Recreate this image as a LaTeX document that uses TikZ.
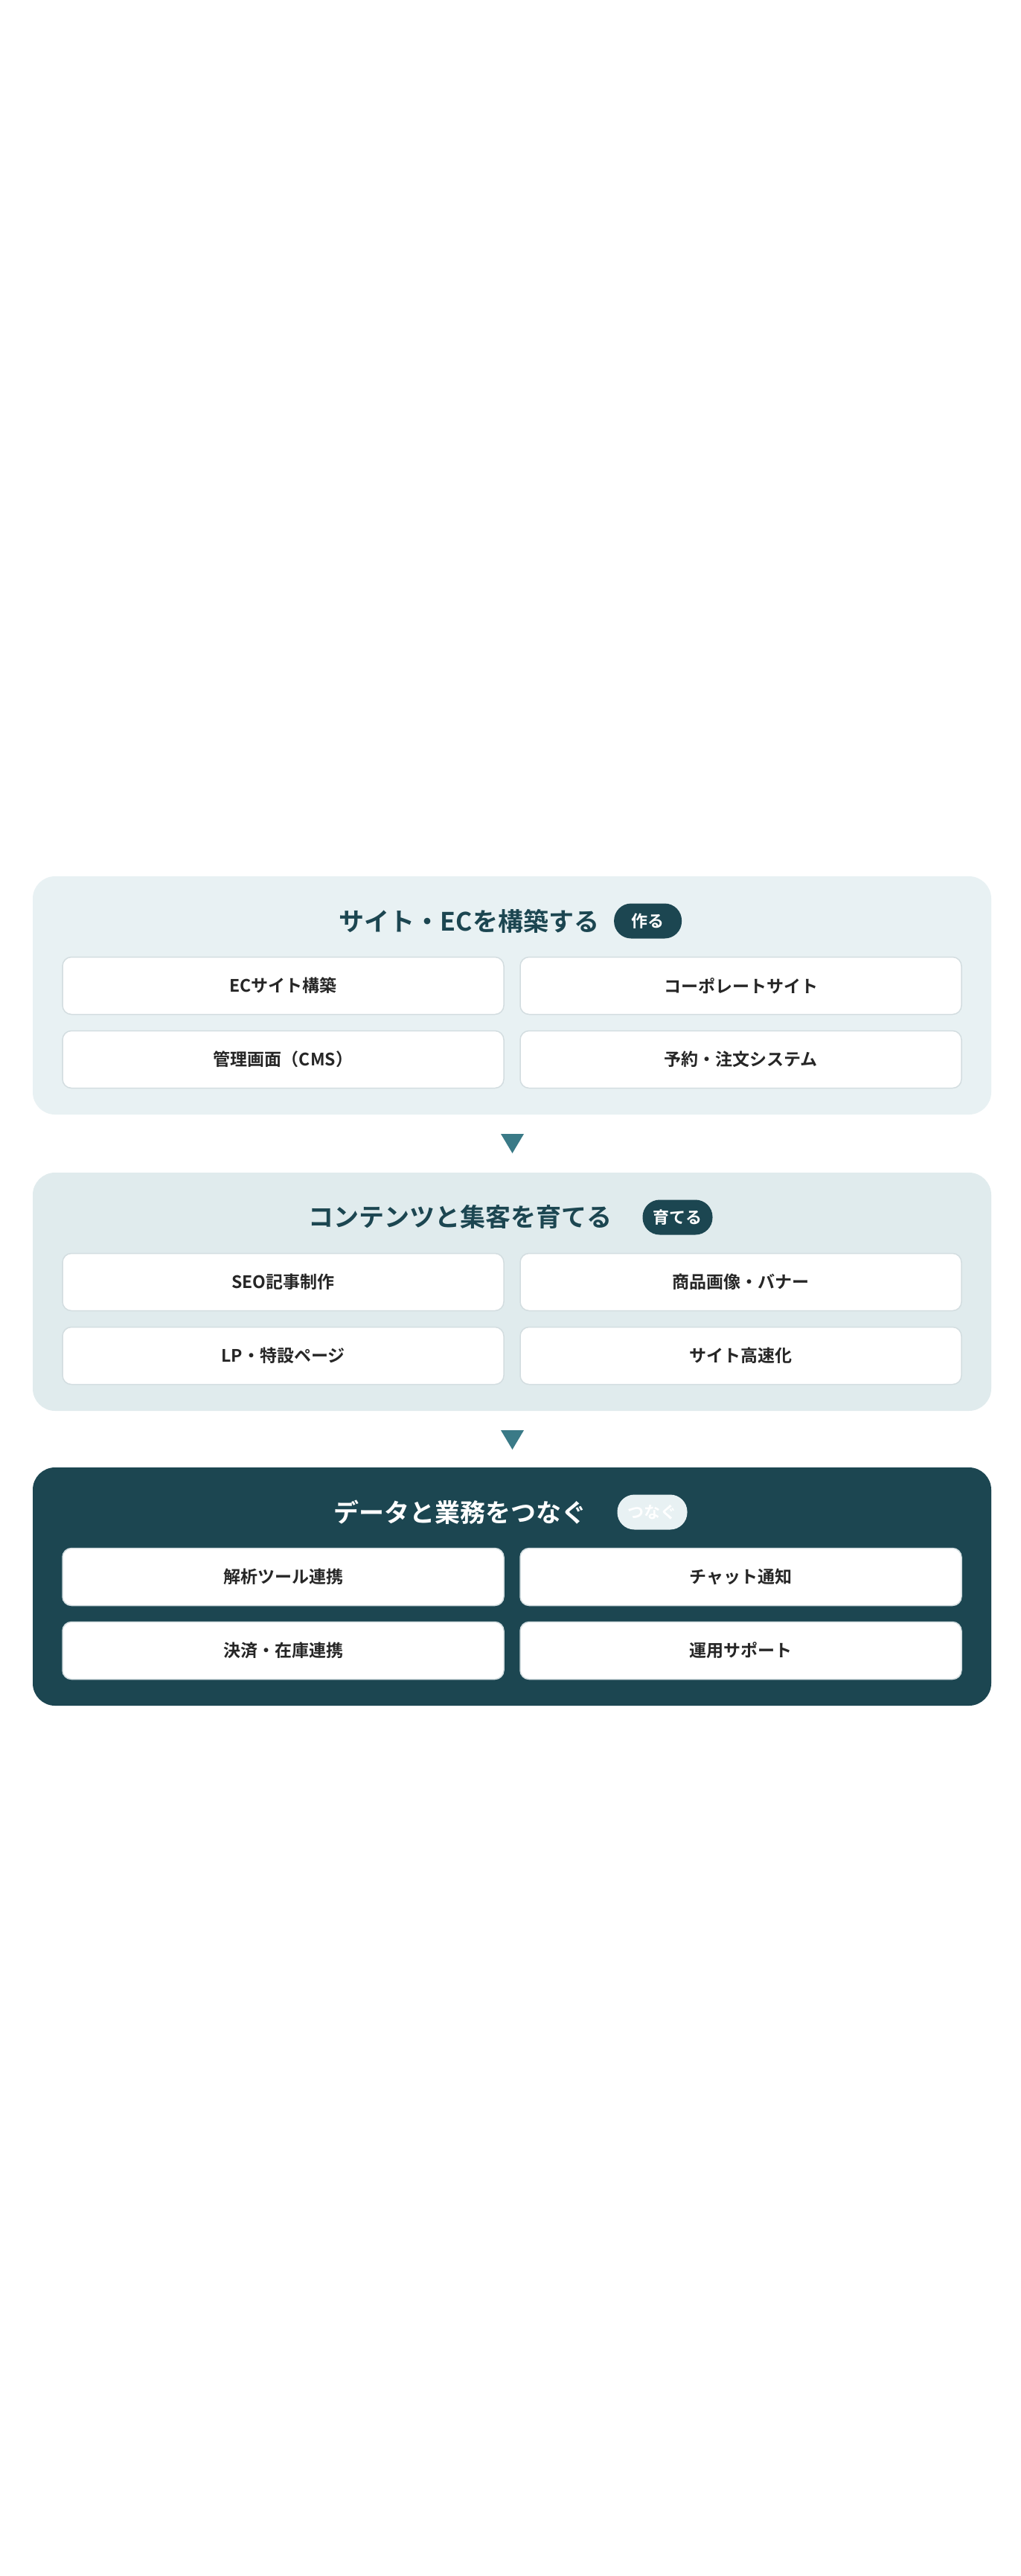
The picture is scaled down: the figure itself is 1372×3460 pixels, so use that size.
\documentclass[tikz,border=0pt]{standalone}
\usepackage{fontspec}
\setmainfont{Noto Sans CJK JP}[BoldFont={* Bold}]
\usetikzlibrary{positioning}
\definecolor{deep}{HTML}{1C4651}
\definecolor{paleA}{HTML}{E8F1F3}
\definecolor{paleB}{HTML}{E0EBED}
\definecolor{edge}{HTML}{D3DDE0}
\definecolor{tri}{HTML}{3A7A87}
\begin{document}
\begin{tikzpicture}[x=1pt,y=-1pt,
  panel/.style={rounded corners=30pt, draw=none},
  card/.style={draw=edge, line width=1.5pt, fill=white, rounded corners=12pt, minimum width=593pt, minimum height=77pt, font=\fontsize{23}{27}\selectfont\bfseries, text=black!85},
  title/.style={inner sep=0pt, font=\fontsize{34}{40}\selectfont\bfseries, text=deep},
  badge/.style={fill=deep, text=white, rounded corners=23pt, minimum height=47pt, minimum width=91pt, inner xsep=14pt, font=\fontsize{22}{26}\selectfont\bfseries}]
\useasboundingbox (0,0) rectangle (1372,3460);
\fill[white] (0,0) rectangle (1372,3460);
% panel 1
\fill[panel, paleA] (44,1177) rectangle (1332,1497);
\node[title] (t1) at (686,1237) {サイト・ECを構築する\hspace*{111pt}};
\node[badge, anchor=east] (b1) at (t1.east) {作る};
\node[card] (c11) at (380.5,1324) {ECサイト構築};
\node[card] (c12) at (995.5,1324) {コーポレートサイト};
\node[card] (c13) at (380.5,1423) {管理画面（CMS）};
\node[card] (c14) at (995.5,1423) {予約・注文システム};
% arrow
\fill[tri] (673,1523) -- (704,1523) -- (688.5,1549) -- cycle;
% panel 2
\fill[panel, paleB] (44,1575) rectangle (1332,1895);
\node[title] (t2) at (686,1635) {コンテンツと集客を育てる\hspace*{135pt}};
\node[badge, anchor=east] (b2) at (t2.east) {育てる};
\node[card] (c21) at (380.5,1722) {SEO記事制作};
\node[card] (c22) at (995.5,1722) {商品画像・バナー};
\node[card] (c23) at (380.5,1821) {LP・特設ページ};
\node[card] (c24) at (995.5,1821) {サイト高速化};
% arrow
\fill[tri] (673,1921) -- (704,1921) -- (688.5,1947) -- cycle;
% panel 3
\fill[panel, deep] (44,1971) rectangle (1332,2291);
\node[title, text=white] (t3) at (686,2031) {データと業務をつなぐ\hspace*{135pt}};
\node[badge, fill=paleA, text=white, anchor=east] (b3) at (t3.east) {つなぐ};
\node[card] (c31) at (380.5,2118) {解析ツール連携};
\node[card] (c32) at (995.5,2118) {チャット通知};
\node[card] (c33) at (380.5,2217) {決済・在庫連携};
\node[card] (c34) at (995.5,2217) {運用サポート};
\end{tikzpicture}
\end{document}
